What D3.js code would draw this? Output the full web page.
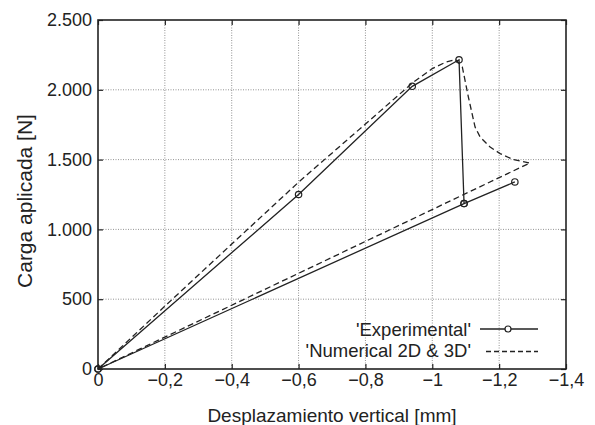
<!DOCTYPE html>
<html>
<head>
<meta charset="utf-8">
<script src="https://cdn.jsdelivr.net/npm/d3@7"></script>
<style>
  body { margin: 0; background: #fff; }
  svg { display: block; font-family: 'Liberation Sans', Arial, sans-serif; }
</style>
</head>
<body>
<div id="chart"></div>
<script>
// experimental load path (loading, drop, reload, unload to origin)
const expX = [0, -0.6, -0.94, -1.08, -1.095, -1.247, -1.095, 0]
const expY = [0, 1250, 2025, 2215, 1185, 1340, 1185, 0]

// numerical 2D & 3D curve
const numX = [0, -0.2, -0.4, -0.6, -0.8, -0.94, -1.0, -1.04, -1.07, -1.09, -1.108, -1.128, -1.143, -1.173, -1.203, -1.242, -1.292, 0]
const numY = [0, 450, 895, 1338, 1755, 2048, 2152, 2198, 2217, 2162, 1948, 1733, 1662, 1590, 1543, 1500, 1476, 0]

const xTicks = [0, -0.2, -0.4, -0.6, -0.8, -1, -1.2, -1.4]
const yTicks = [0, 500, 1000, 1500, 2000, 2500]

const legendLabels = ["'Experimental'", "'Numerical 2D & 3D'"]

const margin = { top: 20, right: 29, bottom: 56, left: 98 },
  fullWidth = 595,
  fullHeight = 425,
  width = fullWidth - margin.left - margin.right,
  height = fullHeight - margin.top - margin.bottom,
  ink = '#222'

const fmtX = d => d === 0 ? '0' : String(d).replace('-', '\u2212').replace('.', ',')
const fmtY = d => d3.format(',')(d).replace(/,/g, '.')

const svg = d3.select('#chart')
  .append('svg')
    .attr('width', fullWidth)
    .attr('height', fullHeight)
  .append('g')
    .attr('transform', `translate(${margin.left}, ${margin.top})`)

const xScale = d3.scaleLinear().domain([0, -1.4]).range([0, width])
const yScale = d3.scaleLinear().domain([0, 2500]).range([height, 0])

// grid
svg.append('g')
  .selectAll('line')
  .data(xTicks.slice(1, -1))
  .join('line')
    .attr('x1', d => xScale(d)).attr('x2', d => xScale(d))
    .attr('y1', 0).attr('y2', height)
    .attr('stroke', '#777').attr('stroke-width', 0.8)
    .attr('stroke-dasharray', '1,1.5')

svg.append('g')
  .selectAll('line')
  .data(yTicks.slice(1, -1))
  .join('line')
    .attr('y1', d => yScale(d)).attr('y2', d => yScale(d))
    .attr('x1', 0).attr('x2', width)
    .attr('stroke', '#777').attr('stroke-width', 0.8)
    .attr('stroke-dasharray', '1,1.5')

// axes with inward ticks
const styleAxis = g => {
  g.select('.domain').remove()
  g.selectAll('.tick line').attr('stroke', ink).attr('stroke-width', 1.2)
  g.selectAll('.tick text').attr('fill', ink).attr('font-size', 18).attr('font-family', 'Liberation Sans, Arial, sans-serif')
}

svg.append('g')
  .attr('transform', `translate(0, ${height})`)
  .call(d3.axisBottom(xScale).tickValues(xTicks).tickFormat(fmtX).tickSizeInner(-5).tickSizeOuter(0).tickPadding(4))
  .call(styleAxis)

svg.append('g')
  .call(d3.axisTop(xScale).tickValues(xTicks).tickFormat('').tickSizeInner(-5).tickSizeOuter(0))
  .call(styleAxis)

svg.append('g')
  .call(d3.axisLeft(yScale).tickValues(yTicks).tickFormat(fmtY).tickSizeInner(-5).tickSizeOuter(0).tickPadding(6))
  .call(styleAxis)

svg.append('g')
  .attr('transform', `translate(${width}, 0)`)
  .call(d3.axisRight(yScale).tickValues(yTicks).tickFormat('').tickSizeInner(-5).tickSizeOuter(0))
  .call(styleAxis)

// frame
svg.append('rect')
  .attr('width', width).attr('height', height)
  .attr('fill', 'none').attr('stroke', ink).attr('stroke-width', 1.6)

const line = d3.line().x(d => xScale(d[0])).y(d => yScale(d[1]))

const numData = numX.map((x, i) => [x, numY[i]])
const expData = expX.map((x, i) => [x, expY[i]])

svg.append('path')
  .datum(numData)
  .attr('d', line)
  .attr('fill', 'none').attr('stroke', ink).attr('stroke-width', 1.3)
  .attr('stroke-dasharray', '6,3.5')

svg.append('path')
  .datum(expData)
  .attr('d', line)
  .attr('fill', 'none').attr('stroke', ink).attr('stroke-width', 1.3)

svg.selectAll('.dot')
  .data(expData)
  .join('circle')
    .attr('class', 'dot')
    .attr('r', 3.2)
    .attr('cx', d => xScale(d[0]))
    .attr('cy', d => yScale(d[1]))
    .attr('fill', 'none').attr('stroke', ink).attr('stroke-width', 1.2)

// legend
const legendTextY = [316, 337]
const legendLineY = [309, 331.5]
legendLabels.forEach((label, i) => {
  svg.append('text')
    .attr('x', 373).attr('y', legendTextY[i])
    .attr('text-anchor', 'end')
    .attr('font-size', 18.5).attr('fill', ink)
    .text(label)
  svg.append('line')
    .attr('x1', i === 0 ? 382 : 388).attr('x2', 440)
    .attr('y1', legendLineY[i]).attr('y2', legendLineY[i])
    .attr('stroke', ink).attr('stroke-width', 1.3)
    .attr('stroke-dasharray', i === 1 ? '5,3' : null)
  if (i === 0) {
    svg.append('circle')
      .attr('cx', 410).attr('cy', legendLineY[i]).attr('r', 3)
      .attr('fill', '#fff').attr('stroke', ink).attr('stroke-width', 1.2)
  }
})

// axis titles
svg.append('text')
  .attr('x', width / 2).attr('y', height + 53)
  .attr('text-anchor', 'middle')
  .attr('font-size', 19).attr('fill', ink)
  .text('Desplazamiento vertical [mm]')

svg.append('text')
  .attr('transform', `translate(${-66}, ${181}) rotate(-90)`)
  .attr('text-anchor', 'middle')
  .attr('font-size', 21).attr('fill', ink)
  .text('Carga aplicada [N]')
</script>
</body>
</html>
